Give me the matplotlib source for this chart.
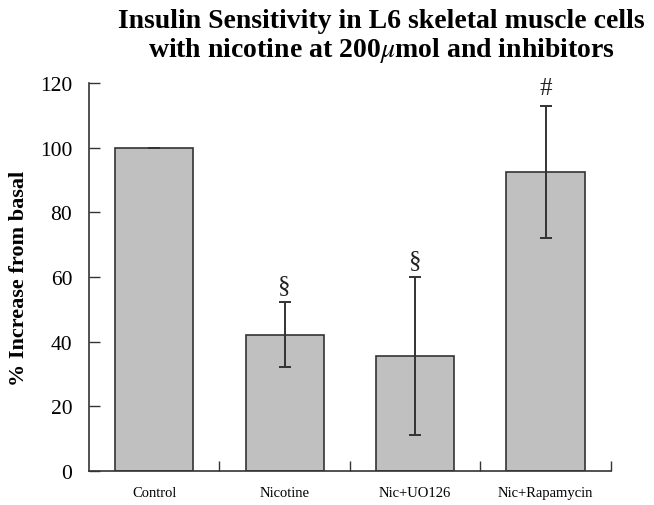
import matplotlib as mpl
mpl.use('Agg')
import matplotlib.pyplot as plt
import numpy as np

categories = ["Control", "Nicotine", "Nic+UO126", "Nic+Rapamycin"]
means = [100.0, 42.2, 35.6, 92.5]
errors = [0.0, 10.0, 24.4, 20.5]
marks = ["", "\u00a7", "\u00a7", "#"]

plt.rcParams['font.family'] = ['Liberation Serif', 'DejaVu Serif']
plt.rcParams['mathtext.fontset'] = 'stix'

fig = plt.figure(figsize = (6.54, 5.06), dpi = 100)
ax = fig.add_axes([0.136, 0.067, 0.798, 0.767])

x = np.arange(len(categories))
ax.bar(x, means, width = 0.6, color = "#c0c0c0", edgecolor = "#333333", lw = 1.2, zorder = 2)
ax.errorbar(x, means, yerr = errors, fmt = "none", ecolor = "#333333", elinewidth = 1.4,
            capsize = 4, capthick = 1.4, zorder = 3)

for xi, m, e, s in zip(x, means, errors, marks):
    if s:
        ax.text(xi, m + e + 2, s, ha = "center", va = "bottom", fontsize = 18, color = "#222222")

ax.set_xlim(-0.5, 3.5)
ax.set_ylim(0, 120)
ax.set_yticks(range(0, 121, 20))
ax.set_xticks(x)
ax.set_xticklabels(categories, fontsize = 10.5)
ax.set_xticks(x + 0.5, minor = True)
ax.tick_params(axis = "x", which = "major", length = 0, pad = 11)
ax.tick_params(axis = "x", which = "minor", direction = "in", length = 7, width = 1, color = "#333333")
ax.tick_params(axis = "y", direction = "in", length = 8, width = 1, color = "#333333",
               labelsize = 15.5, pad = 12)
for side in ["top", "right"]:
    ax.spines[side].set_visible(False)
for side in ["left", "bottom"]:
    ax.spines[side].set_color("#333333")
    ax.spines[side].set_linewidth(1.2)

ax.set_ylabel("% Increase from basal", fontsize = 16, fontweight = "bold", labelpad = 8)

fig.text(0.583, 0.982, "Insulin Sensitivity in L6 skeletal muscle cells\nwith nicotine at 200$\\mu$mol and inhibitors",
         ha = "center", va = "top", fontsize = 20, fontweight = "bold", linespacing = 1.1)

fig.savefig("out.png", dpi = 100)
plt.close()
